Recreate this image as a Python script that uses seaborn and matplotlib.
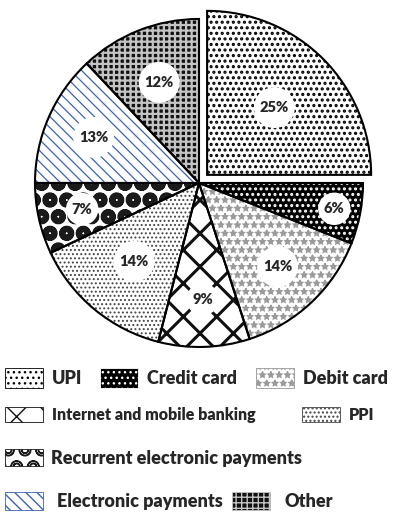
import matplotlib
matplotlib.use("Agg")
import matplotlib.pyplot as plt
import matplotlib.patches as mpatches
import numpy as np
import seaborn as sns

# data (percent of total)
categories = ["UPI", "Credit card", "Debit card", "Internet and mobile banking",
              "PPI", "Recurrent electronic payments", "Electronic payments", "Other"]
shares = [25, 6, 14, 9, 14, 7, 13, 12]

# legend rows as laid out under the pie
legend_rows = [
    ["UPI", "Credit card", "Debit card"],
    ["Internet and mobile banking", "PPI"],
    ["Recurrent electronic payments"],
    ["Electronic payments", "Other"],
]

# fill style per category: face colour, hatch colour, hatch, hatch stroke
styles = {
    "UPI": ("white", "black", "...", 1.5),
    "Credit card": ("black", "white", "...", 1.4),
    "Debit card": ("white", "#9a9a9a", "**", 1.0),
    "Internet and mobile banking": ("white", "#111111", "x", 2.2),
    "PPI": ("white", "#444444", "....", 0.9),
    "Recurrent electronic payments": ("white", "#1a1a1a", "Oo", 2.6),
    "Electronic payments": ("white", "#3d63b0", "\\\\\\", 0.9),
    "Other": ("#111111", "#c4c4c4", "+++", 1.6),
}
label_dist = [0.58, 0.84, 0.70, 0.71, 0.62, 0.73, 0.70, 0.66]

sns.set_theme(style="white")
plt.rcParams["font.family"] = ["Lato", "DejaVu Sans"]
plt.rcParams["font.weight"] = "bold"

fig = plt.figure(figsize=(4.0, 5.15), dpi=100)
lim = 1.1
ax = fig.add_axes([0.0465, 0.2944, 0.902, 0.7006])

explode = [0.07] + [0] * (len(shares) - 1)
pie_kw = dict(startangle=90, counterclock=False, explode=explode)

# one pass per slice so each hatch can get its own stroke width
wedges = None
for cat in categories:
    fc, hc, h, hlw = styles[cat]
    with plt.rc_context({"hatch.linewidth": hlw}):
        ws, _ = ax.pie(shares, wedgeprops=dict(linewidth=0), **pie_kw)
    if wedges is None:
        wedges = list(ws)
    for w, c in zip(ws, categories):
        if c != cat:
            w.remove()
            continue
        w.set_facecolor(fc)
        w.set_edgecolor(hc)
        w.set_hatch(h)
        wedges[categories.index(c)] = w

# black outlines on top
ax.pie(shares, wedgeprops=dict(facecolor="none", edgecolor="black", linewidth=1.5),
       **pie_kw)

for w, v, d in zip(wedges, shares, label_dist):
    ang = np.deg2rad((w.theta1 + w.theta2) / 2)
    cx, cy = w.center
    ax.text(cx + d * np.cos(ang), cy + d * np.sin(ang), f"{v}%",
            ha="center", va="center", fontsize=10.5, fontweight="heavy",
            bbox=dict(boxstyle="circle,pad=0.4", fc="white", ec="none"))

ax.set_xlim(-lim, lim)
ax.set_ylim(-lim, lim)
ax.set_aspect("equal")
ax.axis("off")

handles = {}
for cat in categories:
    fc, hc, h, _ = styles[cat]
    handles[cat] = mpatches.Patch(facecolor=fc, edgecolor=hc, hatch=h, linewidth=0.6)

# per row: y centre, font size, handle height, text pad, column spacing
row_y = [0.266, 0.194, 0.111, 0.027]
row_size = [13, 11.5, 13, 13]
row_hh = [1.4, 1.1, 1.1, 1.2]
row_pad = [0.5, 0.55, 0.45, 0.8]
row_cs = [1.0, 2.9, 0.6, 0.5]
for row, y, fs, hh, tp, cs in zip(legend_rows, row_y, row_size, row_hh, row_pad, row_cs):
    fig.legend([handles[c] for c in row], row, loc="center left",
               bbox_to_anchor=(0.0125, y), ncol=len(row), frameon=False,
               handlelength=38 / (fs * 100 / 72), handleheight=hh,
               handletextpad=tp, columnspacing=cs, borderpad=0,
               borderaxespad=0, prop=dict(weight="heavy", size=fs))

fig.savefig("out.png", dpi=100, facecolor="white")
